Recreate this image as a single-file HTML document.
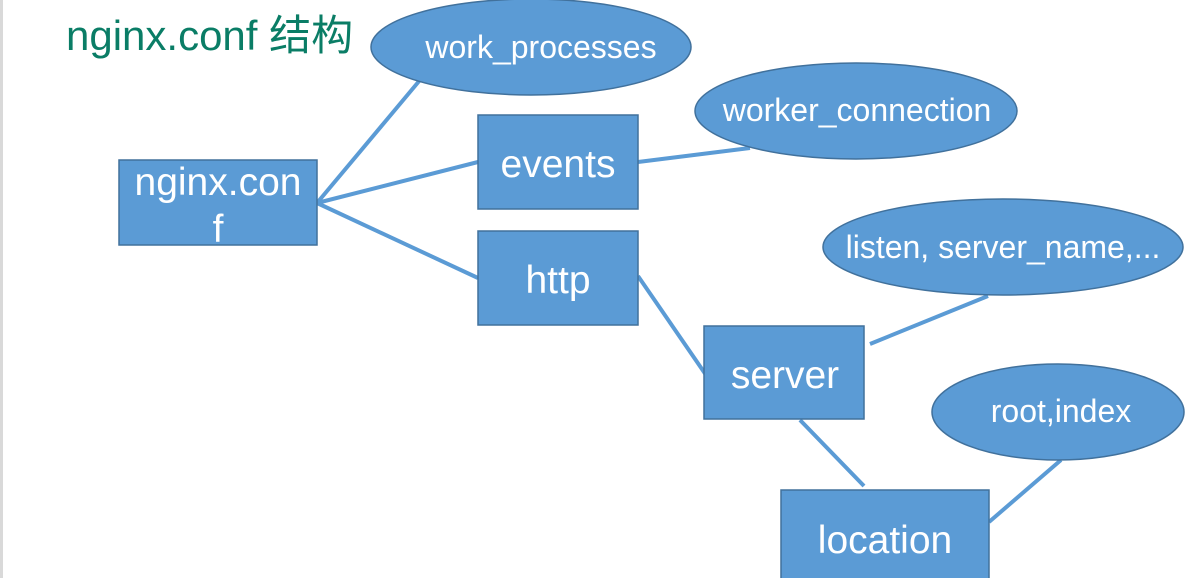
<!DOCTYPE html>
<html><head><meta charset="utf-8"><style>
html,body{margin:0;padding:0;background:#fff;width:1185px;height:578px;overflow:hidden}
</style></head><body>
<svg width="1185" height="578" viewBox="0 0 1185 578" xmlns="http://www.w3.org/2000/svg" font-family="Liberation Sans, sans-serif">
<rect x="0" y="0" width="3" height="578" fill="#d9d9d9"/>
<text x="66" y="50" font-size="42" fill="#0a7d66" font-family="Liberation Sans, Noto Sans CJK SC, sans-serif">nginx.conf 结构</text>
<g stroke="#5b9bd5" stroke-width="4" fill="none">
<line x1="317" y1="203" x2="420" y2="80"/>
<line x1="317" y1="203" x2="478" y2="162"/>
<line x1="317" y1="203" x2="478" y2="278"/>
<line x1="638" y1="162" x2="750" y2="148"/>
<line x1="638" y1="276" x2="706" y2="375"/>
<line x1="870" y1="344" x2="988" y2="296"/>
<line x1="800" y1="420" x2="864" y2="486"/>
<line x1="989" y1="522" x2="1061" y2="460"/>
</g>
<g fill="#5b9bd5" stroke="#41719c" stroke-width="1.5">
<ellipse cx="531" cy="47" rx="160" ry="48"/>
<ellipse cx="856" cy="111" rx="161" ry="48"/>
<ellipse cx="1003" cy="247" rx="180" ry="48"/>
<ellipse cx="1058" cy="412" rx="126" ry="48"/>
<rect x="119" y="160" width="198" height="85"/>
<rect x="478" y="115" width="160" height="94"/>
<rect x="478" y="231" width="160" height="94"/>
<rect x="704" y="326" width="160" height="93"/>
<rect x="781" y="490" width="208" height="92"/>
</g>
<g fill="#fff" text-anchor="middle">
<text x="541" y="58" font-size="32">work_processes</text>
<text x="857" y="121" font-size="32">worker_connection</text>
<text x="1003" y="258" font-size="32">listen, server_name,...</text>
<text x="1061" y="422" font-size="32">root,index</text>
<text x="218" y="195" font-size="39">nginx.con</text>
<text x="218" y="242" font-size="39">f</text>
<text x="558" y="177" font-size="39">events</text>
<text x="558" y="293" font-size="39">http</text>
<text x="785" y="388" font-size="39">server</text>
<text x="885" y="553" font-size="39">location</text>
</g>
</svg>
</body></html>
